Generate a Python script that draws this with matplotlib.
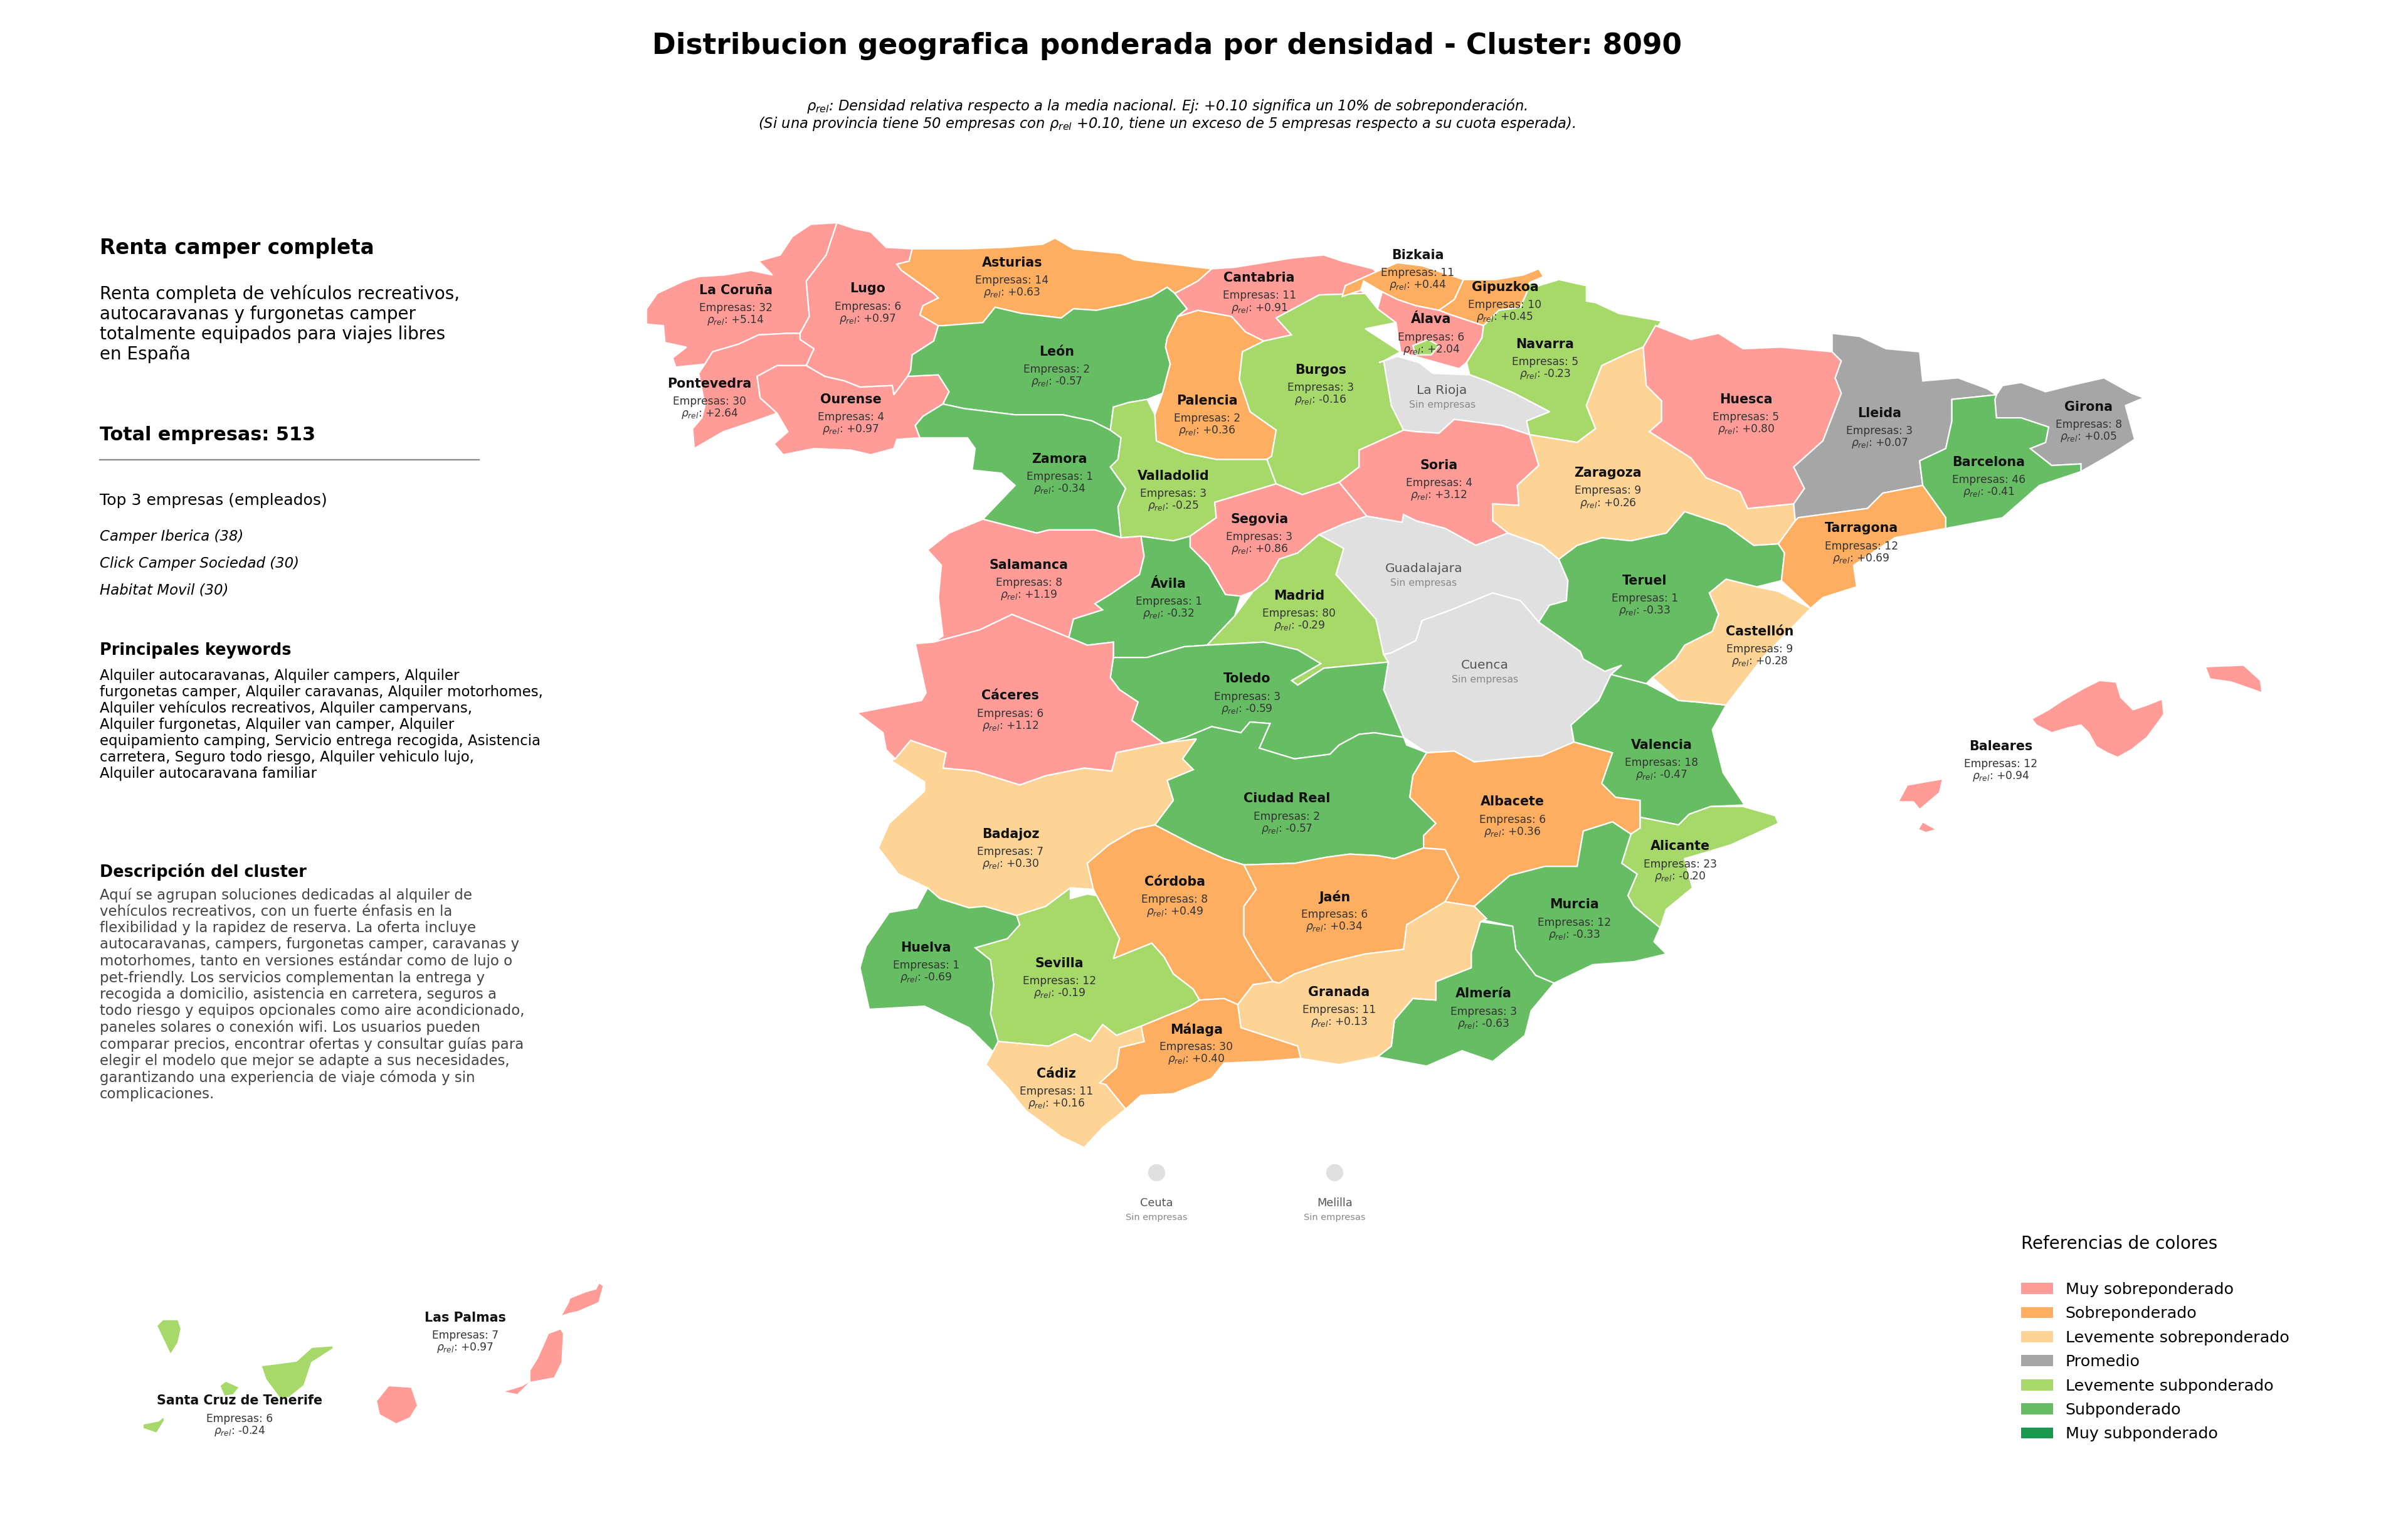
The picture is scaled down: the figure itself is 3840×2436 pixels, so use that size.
import matplotlib
matplotlib.use("Agg")
import matplotlib.pyplot as plt
from matplotlib.patches import Patch

provincias = ["La Coruña", "Lugo", "Pontevedra", "Ourense", "Asturias", "León", "Zamora", "Cantabria",
              "Palencia", "Burgos", "Valladolid", "Segovia", "Bizkaia", "Gipuzkoa", "Álava", "Navarra",
              "Soria", "Zaragoza", "Huesca", "Lleida", "Girona", "Barcelona", "Tarragona", "Teruel",
              "Castellón", "Valencia", "Salamanca", "Ávila", "Madrid", "Toledo", "Cáceres", "Badajoz",
              "Ciudad Real", "Albacete", "Alicante", "Murcia", "Córdoba", "Jaén", "Huelva", "Sevilla",
              "Granada", "Almería", "Málaga", "Cádiz", "Baleares", "Las Palmas", "Santa Cruz de Tenerife"]
empresas = [32, 6, 30, 4, 14, 2, 1, 11, 2, 3, 3, 3, 11, 10, 6, 5, 4, 9, 5, 3, 8, 46, 12, 1, 9, 18, 8, 1, 80, 3,
            6, 7, 2, 6, 23, 12, 8, 6, 1, 12, 11, 3, 30, 11, 12, 7, 6]
rho = [5.14, 0.97, 2.64, 0.97, 0.63, -0.57, -0.34, 0.91, 0.36, -0.16, -0.25, 0.86, 0.44, 0.45, 2.04, -0.23,
       3.12, 0.26, 0.80, 0.07, 0.05, -0.41, 0.69, -0.33, 0.28, -0.47, 1.19, -0.32, -0.29, -0.59, 1.12, 0.30,
       -0.57, 0.36, -0.20, -0.33, 0.49, 0.34, -0.69, -0.19, 0.13, -0.63, 0.40, 0.16, 0.94, 0.97, -0.24]
sin_empresas = ["La Rioja", "Guadalajara", "Cuenca"]

# centro de cada etiqueta
etiqueta_xy = {
    "La Coruña": (479, 189), "Lugo": (565, 188), "Pontevedra": (462, 250), "Ourense": (554, 260),
    "Asturias": (659, 171), "León": (688, 229), "Zamora": (690, 299), "Cantabria": (820, 181),
    "Palencia": (786, 261), "Burgos": (860, 241), "Valladolid": (764, 310), "Segovia": (820, 338),
    "Bizkaia": (923, 166), "Gipuzkoa": (980, 187), "Álava": (932, 208), "Navarra": (1006, 224),
    "Soria": (937, 303), "Zaragoza": (1047, 308), "Huesca": (1137, 260), "Lleida": (1224, 269),
    "Girona": (1360, 265), "Barcelona": (1295, 301), "Tarragona": (1212, 344), "Teruel": (1071, 378),
    "Castellón": (1146, 411), "Valencia": (1082, 485), "Salamanca": (670, 368), "Ávila": (761, 380),
    "Madrid": (846, 388), "Toledo": (812, 442), "Cáceres": (658, 453), "Badajoz": (658, 543),
    "Ciudad Real": (838, 520), "Albacete": (985, 522), "Alicante": (1094, 551), "Murcia": (1025, 589),
    "Córdoba": (765, 574), "Jaén": (869, 584), "Huelva": (603, 617), "Sevilla": (690, 627),
    "Granada": (872, 646), "Almería": (966, 647), "Málaga": (779, 670), "Cádiz": (688, 699),
    "Baleares": (1303, 486), "Las Palmas": (303, 858), "Santa Cruz de Tenerife": (156, 912),
    "La Rioja": (939, 254), "Guadalajara": (927, 370), "Cuenca": (967, 433),
    "Ceuta": (753, 783), "Melilla": (869, 783),
}

# contornos simplificados de cada provincia
contornos = {
    "La Coruña": [[(545, 145), (543, 151), (538, 166), (525, 183), (527, 206), (521, 217), (513, 217), (494, 218),
                   (481, 224), (464, 229), (459, 237), (440, 239), (438, 233), (447, 226), (433, 223), (432, 212),
                   (421, 211), (421, 201), (428, 191), (445, 183), (455, 180), (472, 179), (489, 176), (503, 179),
                   (494, 170), (508, 166), (516, 154), (528, 146)]],
    "Pontevedra": [[(521, 217), (521, 221), (530, 227), (525, 238), (506, 238), (493, 245), (495, 259), (506, 269),
                    (489, 275), (471, 281), (452, 292), (451, 279), (457, 272), (459, 264), (455, 243), (459, 237),
                    (464, 229), (481, 224), (494, 218), (513, 217)]],
    "Lugo": [[(545, 145), (557, 149), (567, 151), (577, 161), (594, 162), (592, 170), (584, 172), (587, 176), (608, 191),
              (611, 194), (601, 199), (599, 205), (611, 212), (608, 222), (594, 231), (593, 241), (591, 245), (582, 257),
              (581, 251), (560, 252), (550, 248), (537, 245), (525, 238), (530, 227), (521, 221), (521, 217), (527, 206),
              (525, 183), (538, 166), (543, 151)]],
    "Ourense": [[(506, 238), (525, 238), (537, 245), (550, 248), (560, 252), (581, 251), (582, 257), (591, 245),
                 (611, 244), (618, 255), (614, 263), (601, 271), (596, 277), (599, 285), (584, 286), (582, 292),
                 (567, 296), (554, 293), (530, 292), (510, 296), (504, 289), (513, 281), (506, 269), (495, 259), (493, 245)]],
    "Asturias": [[(594, 162), (628, 162), (655, 161), (679, 159), (687, 155), (699, 162), (730, 165), (738, 169),
                  (789, 175), (780, 183), (765, 191), (760, 187), (750, 193), (733, 198), (714, 202), (699, 201),
                  (691, 207), (665, 204), (648, 200), (640, 210), (614, 212), (611, 212), (599, 205), (601, 199),
                  (611, 194), (608, 191), (587, 176), (584, 172), (592, 170)]],
    "León": [[(611, 212), (614, 212), (640, 210), (648, 200), (665, 204), (691, 207), (699, 201), (714, 202), (733, 198),
              (750, 193), (760, 187), (765, 191), (773, 201), (767, 206), (760, 220), (759, 226), (762, 237), (757, 256),
              (747, 260), (735, 262), (725, 265), (723, 280), (711, 274), (692, 270), (661, 270), (628, 266), (614, 263),
              (618, 255), (611, 244), (591, 245), (593, 241), (594, 231), (608, 222)]],
    "Zamora": [[(614, 263), (628, 266), (661, 270), (692, 270), (711, 274), (723, 280), (730, 285), (728, 299), (723, 304),
                (733, 318), (728, 330), (730, 350), (713, 345), (683, 345), (675, 347), (640, 338), (661, 316), (652, 308),
                (633, 306), (635, 292), (630, 285), (599, 285), (596, 277), (601, 271)]],
    "Salamanca": [[(640, 338), (675, 347), (683, 345), (713, 345), (730, 350), (743, 349), (745, 362), (742, 374), (723, 387),
                   (713, 393), (718, 397), (699, 403), (696, 415), (679, 408), (659, 400), (638, 410), (608, 418), (614, 414),
                   (611, 389), (613, 368), (604, 358), (618, 347)]],
    "Ávila": [[(743, 349), (764, 352), (775, 349), (775, 356), (787, 368), (798, 387), (808, 388), (804, 401), (786, 420),
               (771, 421), (747, 428), (725, 428), (725, 418), (708, 420), (696, 415), (699, 403), (718, 397), (713, 393),
               (723, 387), (742, 374), (745, 362)]],
    "Valladolid": [[(723, 280), (725, 265), (735, 262), (747, 260), (752, 270), (753, 287), (772, 295), (792, 299), (825, 299),
                    (831, 315), (791, 327), (792, 337), (775, 349), (764, 352), (743, 349), (730, 350), (728, 330), (733, 318),
                    (723, 304), (728, 299), (730, 285)]],
    "Palencia": [[(767, 206), (780, 202), (802, 206), (811, 216), (823, 222), (809, 229), (807, 247), (814, 268), (831, 280),
                  (828, 297), (825, 299), (792, 299), (772, 295), (753, 287), (752, 270), (757, 256), (762, 237), (759, 226),
                  (760, 220)]],
    "Cantabria": [[(789, 175), (804, 174), (841, 168), (862, 166), (874, 170), (894, 175), (896, 177), (876, 186), (874, 193),
                   (886, 189), (889, 191), (859, 192), (831, 207), (841, 218), (823, 222), (811, 216), (802, 206), (780, 202),
                   (767, 206), (773, 201), (765, 191), (780, 183)]],
    "Burgos": [[(809, 229), (823, 222), (841, 218), (831, 207), (859, 192), (889, 191), (897, 201), (909, 210), (889, 214),
                (912, 229), (901, 235), (906, 264), (914, 280), (885, 293), (885, 304), (872, 314), (848, 322), (831, 315),
                (825, 299), (828, 297), (831, 280), (814, 268), (807, 247)]],
    "Bizkaia": [[(874, 193), (876, 186), (896, 177), (910, 171), (926, 173), (941, 178), (953, 182), (947, 195), (937, 202),
                 (922, 199), (910, 195), (900, 190), (888, 183), (886, 189)]],
    "Gipuzkoa": [[(953, 182), (974, 182), (992, 179), (1002, 175), (1005, 180), (996, 184), (994, 191), (990, 200), (976, 202),
                  (966, 212), (945, 205), (937, 202), (947, 195)]],
    "Álava": [[(897, 201), (900, 190), (910, 195), (922, 199), (937, 202), (945, 205), (966, 212), (965, 220), (955, 236),
               (950, 240), (925, 233), (912, 229), (909, 210)]],
    "Treviño": [[(920, 225), (930, 221), (937, 225), (932, 231), (922, 231)]],
    "Navarra": [[(1002, 186), (1015, 182), (1033, 186), (1033, 196), (1039, 197), (1054, 204), (1082, 209), (1070, 226),
                 (1060, 230), (1043, 238), (1033, 264), (1039, 279), (1027, 288), (996, 283), (994, 274), (1009, 268),
                 (986, 256), (968, 248), (957, 244), (955, 236), (965, 220), (966, 212), (976, 202), (990, 200), (994, 191),
                 (996, 184)]],
    "La Rioja": [[(898, 236), (910, 232), (924, 236), (933, 243), (957, 244), (968, 248), (986, 256), (1009, 268), (994, 274),
                  (996, 283), (978, 277), (947, 273), (937, 282), (922, 281), (914, 280), (906, 264), (901, 235)]],
    "Soria": [[(914, 280), (922, 281), (937, 282), (947, 273), (978, 277), (996, 283), (1002, 303), (988, 316), (989, 329),
               (972, 328), (972, 339), (982, 347), (961, 355), (941, 344), (922, 339), (914, 335), (913, 340), (890, 336),
               (872, 314), (885, 304), (885, 293)]],
    "Segovia": [[(831, 315), (848, 322), (872, 314), (890, 336), (875, 341), (859, 348), (845, 360), (833, 364), (825, 378),
                 (816, 385), (808, 388), (798, 387), (787, 368), (775, 356), (775, 349), (792, 337), (791, 327)]],
    "Madrid": [[(859, 348), (875, 357), (870, 374), (896, 403), (901, 426), (904, 431), (862, 435), (845, 446), (841, 443),
                (860, 432), (845, 423), (823, 418), (786, 420), (804, 401), (816, 385), (825, 378), (833, 364), (845, 360)]],
    "Guadalajara": [[(913, 340), (914, 335), (922, 339), (941, 344), (961, 355), (982, 347), (1004, 355), (1015, 364), (1021, 378),
                     (1020, 391), (1009, 394), (1002, 405), (990, 391), (972, 386), (945, 397), (926, 404), (922, 417), (906, 425),
                     (901, 426), (896, 403), (870, 374), (875, 357), (859, 348), (875, 341), (890, 336)]],
    "Cuenca": [[(904, 431), (901, 426), (906, 425), (922, 417), (926, 404), (945, 397), (972, 386), (990, 391), (1002, 405),
                (1029, 424), (1031, 429), (1045, 437), (1056, 433), (1049, 439), (1041, 456), (1023, 472), (1025, 484),
                (1004, 492), (981, 494), (960, 496), (947, 489), (929, 490), (914, 480), (901, 449)]],
    "Toledo": [[(725, 428), (747, 428), (771, 421), (786, 420), (823, 418), (845, 423), (860, 432), (841, 443), (845, 446),
                (862, 435), (904, 431), (901, 449), (914, 480), (895, 477), (885, 478), (872, 485), (866, 491), (843, 494),
                (833, 491), (820, 487), (827, 471), (814, 470), (808, 477), (789, 473), (772, 480), (758, 484), (737, 469),
                (741, 457), (729, 449), (723, 441)]],
    "Ciudad Real": [[(758, 484), (772, 480), (789, 473), (808, 477), (814, 470), (827, 471), (820, 487), (833, 491), (843, 494),
                     (866, 491), (872, 485), (885, 478), (895, 477), (914, 480), (916, 485), (929, 490), (920, 505), (918, 519),
                     (935, 536), (927, 544), (927, 552), (908, 559), (897, 557), (879, 556), (864, 558), (843, 562), (810, 563),
                     (797, 559), (777, 550), (752, 537), (764, 521), (760, 508), (777, 501), (770, 494), (779, 481)]],
    "Cáceres": [[(608, 418), (596, 419), (603, 451), (600, 456), (558, 464), (575, 477), (577, 488), (583, 494), (593, 482),
                 (616, 490), (614, 500), (635, 502), (664, 511), (681, 505), (706, 500), (724, 502), (727, 490), (756, 484),
                 (758, 484), (737, 469), (741, 457), (729, 449), (723, 441), (725, 428), (725, 418), (708, 420), (696, 415),
                 (679, 408), (659, 400), (638, 410)]],
    "Badajoz": [[(583, 494), (593, 482), (616, 490), (614, 500), (635, 502), (664, 511), (681, 505), (706, 500), (724, 502),
                 (727, 490), (756, 484), (779, 481), (770, 494), (777, 501), (760, 508), (764, 521), (752, 537), (739, 540),
                 (722, 550), (708, 562), (712, 579), (697, 578), (681, 590), (662, 596), (641, 590), (631, 591), (612, 585),
                 (604, 578), (585, 569), (572, 552), (579, 536), (602, 515), (602, 509), (580, 495)]],
    "Córdoba": [[(752, 537), (777, 550), (797, 559), (810, 563), (818, 579), (810, 590), (810, 609), (818, 623), (829, 639),
                 (816, 641), (806, 654), (797, 650), (781, 651), (777, 644), (764, 634), (758, 623), (750, 614), (725, 624),
                 (729, 611), (714, 583), (712, 579), (708, 562), (722, 550), (739, 540)]],
    "Jaén": [[(810, 563), (843, 562), (864, 558), (879, 556), (897, 557), (908, 559), (927, 552), (941, 553), (950, 571),
              (941, 587), (916, 602), (914, 618), (889, 621), (864, 627), (843, 634), (833, 640), (829, 639), (818, 623),
              (810, 609), (810, 590), (818, 579)]],
    "Albacete": [[(929, 490), (947, 489), (960, 496), (981, 494), (1004, 492), (1025, 483), (1050, 490), (1043, 510), (1052, 519),
                  (1068, 521), (1068, 539), (1062, 543), (1050, 535), (1031, 541), (1027, 564), (1006, 564), (983, 570),
                  (960, 590), (941, 587), (950, 571), (941, 553), (927, 552), (927, 544), (935, 536), (918, 519), (920, 505)]],
    "Valencia": [[(1049, 439), (1072, 445), (1093, 456), (1105, 457), (1124, 459), (1115, 475), (1122, 503), (1136, 524),
                  (1114, 525), (1100, 530), (1093, 537), (1068, 532), (1068, 521), (1052, 519), (1043, 510), (1050, 490),
                  (1025, 483), (1023, 472), (1041, 456)]],
    "Alicante": [[(1068, 532), (1093, 537), (1100, 530), (1114, 525), (1135, 525), (1156, 531), (1158, 536), (1127, 550),
                  (1097, 559), (1102, 578), (1085, 592), (1081, 604), (1064, 590), (1060, 583), (1066, 569), (1056, 562),
                  (1062, 543), (1068, 539)]],
    "Murcia": [[(1050, 535), (1062, 543), (1056, 562), (1066, 569), (1060, 583), (1064, 590), (1081, 604), (1077, 613), (1085, 621),
                (1064, 626), (1037, 628), (1012, 640), (1000, 635), (987, 618), (985, 603), (966, 599), (960, 590), (983, 570),
                (1006, 564), (1027, 564), (1031, 541)]],
    "Almería": [[(964, 600), (985, 603), (987, 618), (1000, 635), (1012, 640), (997, 658), (993, 674), (972, 691), (952, 684),
                 (929, 694), (897, 688), (906, 681), (908, 664), (920, 650), (935, 651), (935, 639), (958, 630), (958, 620)]],
    "Granada": [[(941, 587), (960, 590), (968, 598), (964, 600), (958, 620), (958, 630), (935, 639), (935, 651), (920, 650),
                 (908, 664), (906, 681), (897, 688), (872, 693), (847, 689), (845, 681), (808, 669), (806, 654), (816, 641),
                 (829, 639), (833, 640), (843, 634), (864, 627), (889, 621), (914, 618), (916, 602)]],
    "Málaga": [[(806, 654), (808, 669), (845, 681), (847, 689), (822, 691), (797, 692), (789, 702), (764, 712), (743, 713),
                (733, 722), (720, 706), (716, 705), (727, 695), (729, 682), (745, 678), (743, 668), (760, 661), (775, 655),
                (781, 651), (797, 650)]],
    "Sevilla": [[(697, 578), (697, 585), (708, 582), (714, 583), (729, 611), (725, 624), (750, 614), (758, 623), (764, 634),
                 (777, 644), (781, 651), (775, 655), (760, 661), (743, 668), (727, 674), (718, 667), (710, 678), (700, 673),
                 (683, 681), (650, 678), (645, 660), (647, 641), (645, 625), (635, 617), (656, 611), (664, 602), (662, 596),
                 (681, 590)]],
    "Huelva": [[(604, 578), (612, 585), (631, 591), (641, 590), (662, 596), (664, 602), (656, 611), (635, 617), (645, 625),
                (647, 641), (645, 660), (650, 678), (647, 685), (631, 669), (602, 655), (566, 657), (560, 630), (564, 616),
                (579, 594), (597, 591)]],
    "Cádiz": [[(650, 678), (683, 681), (700, 673), (710, 678), (718, 667), (727, 674), (743, 668), (745, 678), (729, 682),
               (727, 695), (716, 705), (720, 706), (733, 722), (718, 734), (706, 747), (691, 740), (668, 723), (656, 708),
               (642, 693)]],
    "Castellón": [[(1124, 377), (1113, 386), (1119, 400), (1115, 411), (1097, 420), (1091, 429), (1076, 441), (1093, 456),
                   (1105, 457), (1124, 459), (1148, 428), (1179, 396), (1158, 385), (1144, 382)]],
    "Teruel": [[(1015, 364), (1027, 355), (1043, 350), (1062, 352), (1085, 347), (1097, 333), (1124, 342), (1142, 355), (1158, 354),
                (1162, 360), (1160, 378), (1144, 382), (1124, 377), (1113, 386), (1119, 400), (1115, 411), (1097, 420), (1091, 429),
                (1076, 441), (1072, 445), (1049, 439), (1056, 433), (1045, 437), (1031, 429), (1029, 424), (1002, 405), (1009, 394),
                (1020, 391), (1021, 378)]],
    "Zaragoza": [[(996, 283), (1027, 288), (1039, 279), (1033, 264), (1043, 238), (1060, 230), (1070, 226), (1072, 251), (1082, 261),
                  (1082, 274), (1074, 281), (1101, 298), (1111, 311), (1133, 320), (1138, 331), (1168, 328), (1169, 339), (1158, 354),
                  (1142, 355), (1124, 342), (1097, 333), (1085, 347), (1062, 352), (1043, 350), (1027, 355), (1015, 364), (1004, 355),
                  (982, 347), (972, 339), (972, 328), (989, 329), (988, 316), (1002, 303)]],
    "Huesca": [[(1078, 212), (1101, 221), (1119, 217), (1135, 227), (1160, 226), (1193, 229), (1199, 235), (1195, 246), (1199, 256),
                (1187, 287), (1168, 304), (1175, 318), (1168, 328), (1138, 331), (1133, 320), (1111, 311), (1101, 298), (1074, 281),
                (1082, 274), (1082, 261), (1072, 251), (1070, 226)]],
    "Lleida": [[(1193, 217), (1211, 219), (1228, 227), (1250, 229), (1252, 248), (1275, 246), (1294, 253), (1300, 257), (1271, 260),
                (1271, 274), (1267, 292), (1250, 300), (1252, 316), (1226, 321), (1216, 331), (1171, 337), (1169, 339), (1168, 328),
                (1175, 318), (1168, 304), (1187, 287), (1199, 256), (1195, 246), (1199, 235), (1193, 229)]],
    "Girona": [[(1300, 257), (1304, 251), (1316, 249), (1332, 255), (1348, 251), (1370, 246), (1388, 256), (1396, 259), (1384, 264),
                (1390, 286), (1376, 295), (1355, 307), (1355, 302), (1336, 303), (1322, 292), (1332, 288), (1334, 278), (1316, 272),
                (1300, 272), (1299, 260)]],
    "Barcelona": [[(1271, 260), (1300, 257), (1299, 260), (1300, 272), (1316, 272), (1334, 278), (1332, 288), (1322, 292), (1336, 303),
                   (1355, 302), (1355, 307), (1328, 316), (1304, 337), (1267, 344), (1267, 337), (1252, 316), (1250, 300), (1267, 292),
                   (1271, 274)]],
    "Tarragona": [[(1171, 337), (1216, 331), (1226, 321), (1252, 316), (1267, 337), (1267, 344), (1234, 350), (1207, 368), (1209, 382),
                   (1187, 389), (1179, 396), (1160, 378), (1162, 360), (1158, 354), (1169, 339)]],
    "Baleares": [[(1323, 468), (1334, 462), (1343, 456), (1357, 448), (1367, 443), (1378, 444), (1381, 454), (1389, 462), (1398, 459),
                  (1408, 455), (1409, 465), (1404, 472), (1398, 480), (1388, 488), (1379, 493), (1372, 490), (1365, 486), (1360, 477),
                  (1355, 472), (1346, 474), (1336, 477), (1326, 472)],
                 [(1436, 434), (1461, 433), (1472, 443), (1473, 451), (1453, 444), (1439, 442)],
                 [(1236, 522), (1242, 511), (1265, 507), (1263, 516), (1250, 527), (1246, 522)],
                 [(1249, 540), (1252, 535), (1261, 540), (1254, 542)]],
    "Santa Cruz de Tenerife": [[(102, 863), (106, 859), (116, 859), (118, 865), (116, 874), (111, 882)],
                               [(170, 889), (178, 888), (193, 886), (203, 877), (217, 876), (217, 878), (203, 887), (198, 902),
                                (188, 910), (182, 910), (173, 898)],
                               [(143, 902), (147, 899), (156, 903), (152, 908), (146, 909)],
                               [(93, 927), (103, 925), (107, 922), (107, 925), (102, 933), (93, 930)]],
    "Las Palmas": [[(245, 912), (253, 902), (268, 903), (272, 915), (267, 923), (258, 927), (247, 921)],
                   [(327, 906), (340, 902), (345, 899), (345, 892), (350, 884), (357, 868), (365, 865), (367, 868), (366, 887),
                    (361, 897), (345, 900), (337, 908)],
                   [(365, 857), (370, 848), (371, 845), (381, 841), (388, 839), (390, 835), (393, 837), (390, 848), (376, 854),
                    (371, 855)],
                   [(387, 834), (389, 832), (389, 834)]],
}

# Ceuta y Melilla se dibujan como circulos
ciudades = ["Ceuta", "Melilla"]
ciudades_xy = [(753, 763), (869, 763)]

categorias = ["Muy sobreponderado", "Sobreponderado", "Levemente sobreponderado", "Promedio",
              "Levemente subponderado", "Subponderado", "Muy subponderado"]
colores = ["#FF9C97", "#FDAE61", "#FDD495", "#A6A6A6", "#A6D96A", "#66BD63", "#1A9850"]
color_sin_datos = "#E0E0E0"

descripcion = ("Renta completa de vehículos recreativos,\nautocaravanas y furgonetas camper\n"
               "totalmente equipados para viajes libres\nen España")
top_empresas = ["Camper Iberica (38)", "Click Camper Sociedad (30)", "Habitat Movil (30)"]
keywords = ("Alquiler autocaravanas, Alquiler campers, Alquiler\n"
            "furgonetas camper, Alquiler caravanas, Alquiler motorhomes,\n"
            "Alquiler vehículos recreativos, Alquiler campervans,\n"
            "Alquiler furgonetas, Alquiler van camper, Alquiler\n"
            "equipamiento camping, Servicio entrega recogida, Asistencia\n"
            "carretera, Seguro todo riesgo, Alquiler vehiculo lujo,\n"
            "Alquiler autocaravana familiar")
cluster_texto = ("Aquí se agrupan soluciones dedicadas al alquiler de\n"
                 "vehículos recreativos, con un fuerte énfasis en la\n"
                 "flexibilidad y la rapidez de reserva. La oferta incluye\n"
                 "autocaravanas, campers, furgonetas camper, caravanas y\n"
                 "motorhomes, tanto en versiones estándar como de lujo o\n"
                 "pet-friendly. Los servicios complementan la entrega y\n"
                 "recogida a domicilio, asistencia en carretera, seguros a\n"
                 "todo riesgo y equipos opcionales como aire acondicionado,\n"
                 "paneles solares o conexión wifi. Los usuarios pueden\n"
                 "comparar precios, encontrar ofertas y consultar guías para\n"
                 "elegir el modelo que mejor se adapte a sus necesidades,\n"
                 "garantizando una experiencia de viaje cómoda y sin\n"
                 "complicaciones.")


def color_de(r):
    if r >= 0.75:
        return colores[0]
    if r >= 0.33:
        return colores[1]
    if r >= 0.1:
        return colores[2]
    if r > -0.1:
        return colores[3]
    if r > -0.3:
        return colores[4]
    if r > -0.75:
        return colores[5]
    return colores[6]


relleno = {p: color_de(r) for p, r in zip(provincias, rho)}
for p in sin_empresas:
    relleno[p] = color_sin_datos
relleno["Treviño"] = relleno["Burgos"]

fig = plt.figure(figsize=(24, 15.225), dpi=160)
ax = fig.add_axes([0, 0, 1, 1])
ax.set_xlim(0, 1568)
ax.set_ylim(994.7, 0)
ax.axis("off")

for nombre, partes in contornos.items():
    for parte in partes:
        xs = [p[0] for p in parte]
        ys = [p[1] for p in parte]
        ax.fill(xs, ys, facecolor=relleno[nombre], edgecolor="white", linewidth=1.0, zorder=2)

for (x, y) in ciudades_xy:
    ax.scatter([x], [y], s=150, color=color_sin_datos, linewidths=0, zorder=2)

# etiquetas de provincias
for nombre, n, r in zip(provincias, empresas, rho):
    x, y = etiqueta_xy[nombre]
    ax.text(x, y, nombre, ha="center", va="center", fontsize=9.3, fontweight="bold", color="#111111", zorder=5)
    ax.text(x, y + 11.5, f"Empresas: {n}", ha="center", va="center", fontsize=7.7, color="#333333", zorder=5)
    ax.text(x, y + 19.5, rf"$\rho_{{rel}}$: {r:+.2f}", ha="center", va="center", fontsize=7.7, color="#333333", zorder=5)

for nombre in sin_empresas:
    x, y = etiqueta_xy[nombre]
    ax.text(x, y, nombre, ha="center", va="center", fontsize=9.1, color="#555555", zorder=5)
    ax.text(x, y + 9.5, "Sin empresas", ha="center", va="center", fontsize=7.1, color="#888888", zorder=5)

for nombre in ciudades:
    x, y = etiqueta_xy[nombre]
    ax.text(x, y, nombre, ha="center", va="center", fontsize=8, color="#555555", zorder=5)
    ax.text(x, y + 9.5, "Sin empresas", ha="center", va="center", fontsize=6.5, color="#888888", zorder=5)

# titulo y nota
ax.text(760, 30, "Distribucion geografica ponderada por densidad - Cluster: 8090", ha="center", va="center",
        fontsize=20.5, fontweight="bold")
ax.text(760, 69, r"$\rho_{rel}$: Densidad relativa respecto a la media nacional. Ej: +0.10 significa un 10% de sobreponderación.",
        ha="center", va="center", fontsize=10.2, style="italic")
ax.text(760, 80.5, r"(Si una provincia tiene 50 empresas con $\rho_{rel}$ +0.10, tiene un exceso de 5 empresas respecto a su cuota esperada).",
        ha="center", va="center", fontsize=10.2, style="italic")

# panel izquierdo
ax.text(65, 161.5, "Renta camper completa", va="center", fontsize=14.7, fontweight="bold")
ax.text(65, 211, descripcion, va="center", fontsize=12.5, linespacing=1.18)
ax.text(65, 283, "Total empresas: 513", va="center", fontsize=13.6, fontweight="bold")
ax.plot([65, 312], [299.2, 299.2], color="#888888", linewidth=1)
ax.text(65, 325.7, "Top 3 empresas (empleados)", va="center", fontsize=11.3)
for t, y in zip(top_empresas, [349.4, 366.7, 384.4]):
    ax.text(65, y, t, va="center", fontsize=10.3, style="italic")
ax.text(65, 423.5, "Principales keywords", va="center", fontsize=11.5, fontweight="bold")
ax.text(65, 471.8, keywords, va="center", fontsize=10.3, linespacing=1.16)
ax.text(65, 567.7, "Descripción del cluster", va="center", fontsize=11.5, fontweight="bold")
ax.text(65, 647.5, cluster_texto, va="center", fontsize=10.3, color="#444444", linespacing=1.17)

# leyenda
handles = [Patch(facecolor=c, edgecolor="none", label=l) for c, l in zip(colores, categorias)]
leg = ax.legend(handles=handles, title="Referencias de colores\n", loc="upper left", bbox_to_anchor=(1316, 804),
                bbox_transform=ax.transData, frameon=False, fontsize=11.4, title_fontsize=12.5,
                alignment="left", borderpad=0, borderaxespad=0, labelspacing=0.57)

fig.savefig("out.png", dpi=160)
